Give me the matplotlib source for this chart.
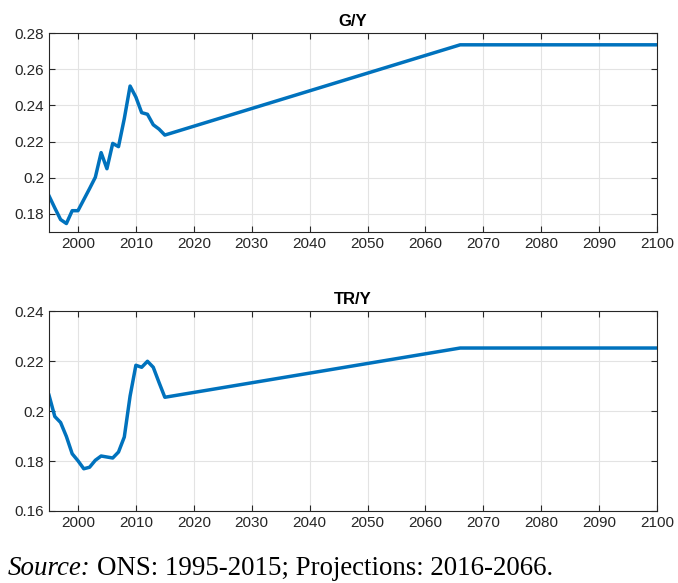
import matplotlib.pyplot as plt

# G/Y and TR/Y: ONS history 1995-2015, projection to 2066, then held flat
years_gy = [1995, 1996, 1997, 1998, 1999, 2000, 2001, 2002, 2003, 2004, 2005,
            2006, 2007, 2008, 2009, 2010, 2011, 2012, 2013, 2014, 2015, 2066, 2100]
gy = [0.190, 0.1833, 0.1769, 0.1747, 0.1818, 0.1818, 0.1879, 0.1940, 0.2003,
      0.2139, 0.2050, 0.2190, 0.2172, 0.2327, 0.2507, 0.2446, 0.2360, 0.2351,
      0.2293, 0.2269, 0.2236, 0.2735, 0.2735]

years_tr = years_gy
tr = [0.2063, 0.1978, 0.1954, 0.1898, 0.1829, 0.1801, 0.1769, 0.1775, 0.1803,
      0.1820, 0.1816, 0.1812, 0.1836, 0.1896, 0.2060, 0.2183, 0.2175, 0.2199,
      0.2175, 0.2114, 0.2055, 0.2252, 0.2252]

xticks = list(range(2000, 2101, 10))
gy_ticks = [0.18, 0.2, 0.22, 0.24, 0.26, 0.28]
tr_ticks = [0.16, 0.18, 0.2, 0.22, 0.24]

plt.rcParams['font.family'] = ['Liberation Sans', 'DejaVu Sans']
blue = '#0072BD'

fig = plt.figure(figsize=(6.78, 5.83), dpi=100)
ax1 = fig.add_axes([0.0723, 0.602, 0.8968, 0.3413])
ax2 = fig.add_axes([0.0723, 0.1235, 0.8968, 0.343])


def style(ax, yticks, ylim, title):
    ax.set_xlim(1995, 2100)
    ax.set_ylim(*ylim)
    ax.set_xticks(xticks)
    ax.set_yticks(yticks)
    ax.set_yticklabels([('%g' % v) for v in yticks])
    ax.grid(True, color='#e3e3e3', linewidth=0.8)
    ax.set_axisbelow(True)
    ax.tick_params(direction='in', top=True, right=True, length=4,
                   labelsize=11, colors='#262626', width=0.8)
    for s in ax.spines.values():
        s.set_color('#262626')
        s.set_linewidth(0.8)
    ax.set_title(title, fontsize=12, fontweight='bold', pad=5)


ax1.plot(years_gy, gy, color=blue, linewidth=2.5)
style(ax1, gy_ticks, (0.17, 0.28), 'G/Y')

ax2.plot(years_tr, tr, color=blue, linewidth=2.5)
style(ax2, tr_ticks, (0.16, 0.24), 'TR/Y')

# source note: italic label followed by upright text
src = fig.text(0.012, 0.014, 'Source:', fontsize=19.4, style='italic',
               family='Liberation Serif')
fig.canvas.draw()
bb = src.get_window_extent().transformed(fig.transFigure.inverted())
fig.text(bb.x1 + 0.009, 0.014, 'ONS: 1995-2015; Projections: 2016-2066.',
         fontsize=19.4, family='Liberation Serif')

fig.savefig('out.png', dpi=100)
